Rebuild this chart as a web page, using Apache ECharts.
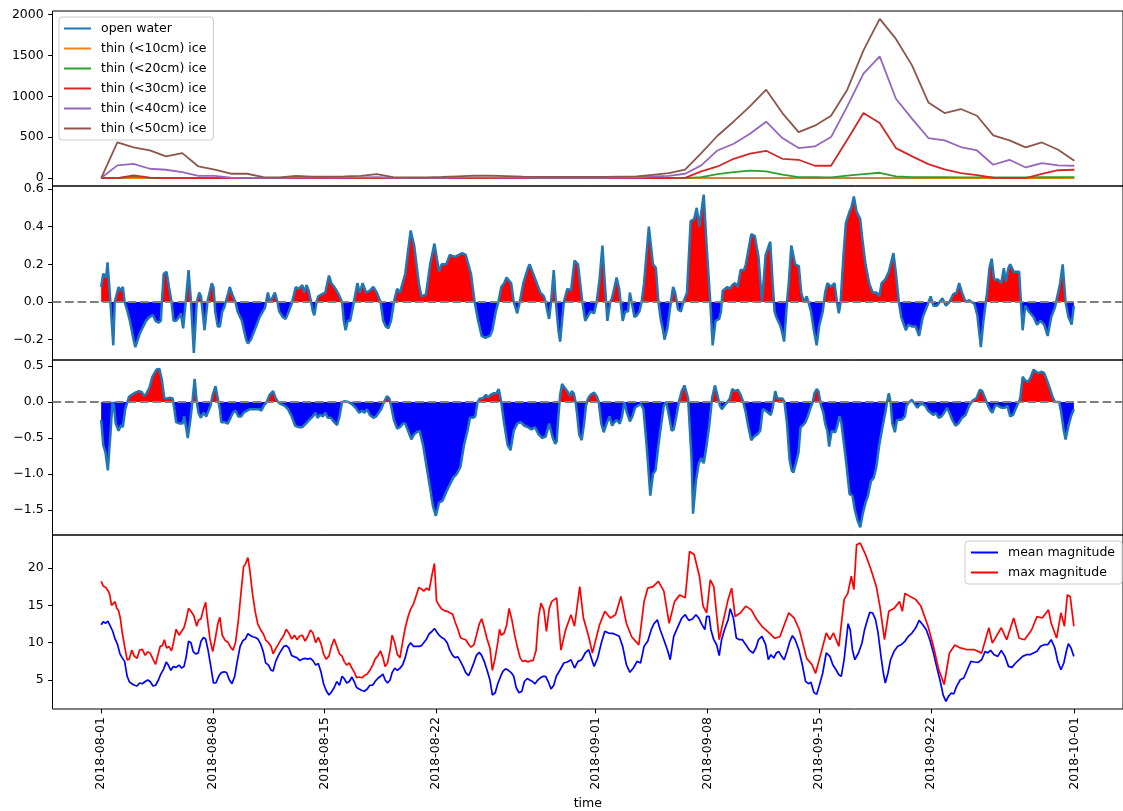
<!DOCTYPE html>
<html>
<head>
<meta charset="utf-8">
<script src="https://cdn.jsdelivr.net/npm/echarts@6/dist/echarts.min.js"></script>
<style>
  html, body { margin: 0; padding: 0; background: #fff; }
  #chart { width: 1123px; height: 811px; }
</style>
</head>
<body>
<div id="chart"></div>
<script>
// ---- ice-class extent, one sample per step from 2018-08-01 to 2018-10-01 ----
const iceNames = ['open water', 'thin (<10cm) ice', 'thin (<20cm) ice', 'thin (<30cm) ice', 'thin (<40cm) ice', 'thin (<50cm) ice'];
const openWater = [0,0,0,0,0,0,0,0,0,0,0,0,0,0,0,0,0,0,0,0,0,0,0,0,0,0,0,0,0,0,0,0,0,0,0,0,0,0,0,0,0,0,0,0,0,0,0,0,0,0,0,0,0,0,0,0,0,0,0,0,0];
const thin10 = [0,0,0,0,0,0,0,0,0,0,0,0,0,0,0,0,0,0,0,0,0,0,0,0,0,0,0,0,0,0,0,0,0,0,0,0,0,0,2,2,3,3,2,2,2,2,2,3,3,2,2,0,0,0,0,0,0,0,0,0,0];
const thin20 = [0,0,18,3,0,0,0,0,0,0,0,0,0,0,0,0,0,0,0,0,0,0,0,0,0,0,0,0,0,0,0,0,0,0,0,0,0,12,49,74,90,81,41,12,10,8,29,49,65,20,12,10,12,8,8,8,8,8,10,10,12];
const thin30 = [0,0,32,5,0,0,0,0,0,0,0,0,0,0,0,0,0,0,0,0,0,0,0,0,0,0,0,0,0,0,0,0,0,0,0,0,3,81,142,236,298,334,236,224,151,151,469,796,674,367,265,171,106,61,36,4,0,0,51,96,102];
const thin40 = [0,155,175,114,102,73,28,28,4,3,3,3,5,5,5,5,8,12,4,3,3,4,6,8,8,6,5,4,4,4,4,4,5,7,20,27,53,155,338,420,543,690,490,367,387,502,877,1278,1490,971,725,490,461,380,338,163,224,130,184,155,151];
const thin50 = [0,436,375,338,265,306,142,102,53,53,12,8,28,16,16,20,28,49,12,8,8,14,22,30,30,25,18,15,15,15,15,15,18,20,40,60,102,306,518,693,877,1082,796,563,641,763,1082,1563,1948,1703,1376,926,796,845,763,522,461,375,436,347,212];
const iceSeries = [openWater, thin10, thin20, thin30, thin40, thin50];

// ---- second panel: [days since 2018-08-01, value] ----
const diffA = [[0,0.08],[0.13,0.15],[0.25,0.16],[0.31,0.13],[0.4,0.21],[0.58,0.0],[0.76,-0.23],[0.85,0.0],[1.09,0.08],[1.18,0.06],[1.36,0.08],[1.47,0.0],[1.65,-0.05],[1.8,-0.1],[2.03,-0.2],[2.14,-0.24],[2.41,-0.17],[2.52,-0.15],[2.81,-0.1],[3.03,-0.08],[3.25,-0.07],[3.41,-0.1],[3.59,-0.11],[3.74,-0.1],[3.81,0.0],[3.92,0.15],[4.1,0.16],[4.25,0.08],[4.41,0.0],[4.54,-0.1],[4.7,-0.1],[4.88,-0.08],[4.99,-0.06],[5.14,-0.14],[5.3,0.0],[5.48,0.17],[5.63,0.0],[5.81,-0.27],[5.99,0.0],[6.15,0.05],[6.26,0.03],[6.48,-0.15],[6.66,0.0],[6.93,0.1],[7.04,0.08],[7.15,-0.05],[7.31,-0.13],[7.44,-0.13],[7.59,-0.05],[7.71,-0.03],[7.97,0.05],[8.06,0.08],[8.26,0.03],[8.42,0.0],[8.55,-0.05],[8.82,-0.1],[9.09,-0.2],[9.2,-0.22],[9.38,-0.2],[9.49,-0.21],[9.71,-0.13],[9.93,-0.08],[10.27,-0.03],[10.45,0.05],[10.6,0.0],[10.71,-0.01],[10.89,0.05],[11.05,0.0],[11.16,-0.05],[11.38,-0.08],[11.56,-0.09],[11.76,-0.05],[11.94,-0.01],[12.2,0.08],[12.38,0.07],[12.61,0.09],[12.72,0.05],[12.87,0.09],[13.01,0.06],[13.16,0.0],[13.27,-0.05],[13.36,-0.07],[13.5,0.0],[13.61,0.03],[13.72,0.02],[13.83,0.04],[14.05,0.05],[14.28,0.14],[14.43,0.1],[14.61,0.08],[14.83,0.05],[15.1,0.0],[15.21,-0.1],[15.32,-0.15],[15.46,-0.1],[15.61,-0.1],[15.84,0.0],[16.06,0.1],[16.21,0.05],[16.39,0.1],[16.61,0.05],[16.84,0.06],[17.06,0.08],[17.28,0.05],[17.51,0.0],[17.68,-0.1],[17.84,-0.13],[18.0,-0.14],[18.17,-0.1],[18.35,0.0],[18.55,0.07],[18.73,0.05],[19.06,0.15],[19.4,0.38],[19.62,0.3],[19.91,0.1],[20.07,0.03],[20.36,0.04],[20.62,0.2],[20.89,0.31],[21.18,0.16],[21.34,0.2],[21.63,0.2],[21.85,0.25],[22.18,0.24],[22.63,0.26],[22.85,0.25],[23.18,0.15],[23.41,0.0],[23.63,-0.1],[23.85,-0.18],[24.08,-0.19],[24.37,-0.18],[24.52,-0.15],[24.74,-0.05],[24.9,0.0],[25.08,0.08],[25.26,0.1],[25.41,0.13],[25.7,0.1],[25.86,0.0],[26.08,-0.06],[26.24,0.0],[26.46,0.1],[26.75,0.18],[26.86,0.2],[27.08,0.15],[27.53,0.05],[27.75,0.03],[27.86,0.0],[27.97,-0.05],[28.08,-0.09],[28.2,0.0],[28.37,0.17],[28.5,0.0],[28.66,-0.15],[28.77,-0.21],[28.89,-0.1],[29.0,0.0],[29.22,0.07],[29.45,0.06],[29.67,0.22],[29.89,0.2],[30.0,0.2],[30.16,0.0],[30.34,-0.1],[30.45,-0.11],[30.68,-0.05],[30.9,-0.06],[31.06,0.0],[31.24,0.12],[31.42,0.3],[31.57,0.1],[31.73,-0.1],[31.91,0.0],[32.02,0.02],[32.31,0.13],[32.47,0.07],[32.69,-0.1],[32.85,-0.05],[33.03,-0.05],[33.14,0.05],[33.25,0.0],[33.43,-0.08],[33.59,-0.07],[33.74,-0.05],[33.88,0.0],[34.03,0.1],[34.33,0.4],[34.42,0.41],[34.59,0.2],[34.77,0.18],[34.93,0.0],[35.09,-0.1],[35.22,-0.15],[35.31,-0.2],[35.49,-0.14],[35.71,0.0],[35.85,0.08],[35.98,0.05],[36.16,-0.04],[36.34,-0.05],[36.5,0.0],[36.72,0.05],[36.95,0.43],[37.17,0.44],[37.33,0.5],[37.5,0.4],[37.62,0.48],[37.77,0.57],[37.95,0.3],[38.18,0.0],[38.33,-0.23],[38.51,-0.1],[38.74,-0.09],[38.85,-0.05],[38.96,0.06],[39.07,0.07],[39.25,0.08],[39.41,0.07],[39.56,0.09],[39.74,0.1],[39.9,0.08],[40.08,0.17],[40.3,0.17],[40.41,0.2],[40.75,0.36],[40.97,0.35],[41.2,0.24],[41.42,0.0],[41.65,0.25],[41.94,0.32],[42.09,0.1],[42.21,-0.05],[42.32,-0.08],[42.54,-0.12],[42.65,-0.15],[42.81,-0.21],[42.99,0.0],[43.1,0.1],[43.26,0.3],[43.5,0.2],[43.73,0.19],[43.88,0.05],[44.04,0.0],[44.22,0.03],[44.33,0.0],[44.49,-0.05],[44.67,-0.15],[44.85,-0.23],[45.0,-0.13],[45.23,-0.05],[45.38,0.05],[45.52,0.1],[45.74,0.08],[45.97,0.1],[46.12,0.0],[46.24,-0.06],[46.35,0.0],[46.53,0.25],[46.68,0.42],[46.91,0.48],[47.02,0.5],[47.18,0.56],[47.35,0.48],[47.58,0.44],[47.69,0.35],[47.91,0.2],[48.14,0.1],[48.36,0.05],[48.59,0.05],[48.77,0.03],[48.92,0.1],[49.15,0.12],[49.37,0.16],[49.66,0.26],[49.82,0.15],[50.0,0.0],[50.15,-0.08],[50.44,-0.15],[50.6,-0.12],[50.82,-0.13],[51.05,-0.13],[51.27,-0.18],[51.5,-0.08],[51.83,-0.01],[51.99,0.03],[52.17,-0.02],[52.39,-0.02],[52.73,0.02],[52.95,-0.02],[53.17,0.0],[53.4,0.04],[53.62,0.05],[53.78,0.1],[53.96,0.05],[54.18,0.0],[54.41,0.01],[54.56,0.0],[54.74,-0.01],[54.92,-0.07],[55.14,-0.24],[55.3,-0.1],[55.53,0.05],[55.68,0.18],[55.82,0.23],[55.97,0.12],[56.2,0.12],[56.42,0.1],[56.58,0.18],[56.71,0.11],[56.87,0.18],[56.98,0.2],[57.2,0.16],[57.54,0.16],[57.65,0.0],[57.76,-0.15],[57.92,-0.02],[58.14,-0.05],[58.44,-0.08],[58.66,-0.12],[58.88,-0.1],[59.11,-0.12],[59.33,-0.18],[59.55,-0.08],[59.78,-0.03],[59.89,-0.02],[60.11,0.1],[60.27,0.2],[60.45,0.0],[60.63,-0.08],[60.83,-0.12],[60.97,-0.02]];

// ---- third panel: [days since 2018-08-01, value] ----
const diffB = [[0,-0.25],[0.13,-0.6],[0.27,-0.7],[0.42,-0.95],[0.58,-0.45],[0.71,0.0],[0.8,-0.05],[0.91,-0.3],[1.09,-0.4],[1.25,-0.32],[1.36,-0.35],[1.51,-0.1],[1.65,0.0],[1.74,0.07],[1.92,0.1],[2.14,0.13],[2.36,0.15],[2.54,0.14],[2.69,0.08],[2.85,0.12],[3.03,0.2],[3.21,0.35],[3.47,0.45],[3.65,0.46],[3.81,0.3],[3.96,0.05],[4.14,0.05],[4.32,0.06],[4.48,0.05],[4.59,-0.1],[4.7,-0.28],[4.92,-0.3],[5.1,-0.3],[5.21,-0.2],[5.32,-0.35],[5.43,-0.5],[5.59,-0.25],[5.72,0.0],[5.86,0.32],[5.99,0.0],[6.1,-0.15],[6.24,-0.22],[6.41,-0.15],[6.59,-0.2],[6.7,-0.18],[6.86,-0.05],[6.99,0.1],[7.17,0.22],[7.31,0.05],[7.44,-0.1],[7.53,-0.28],[7.75,-0.28],[7.93,-0.3],[8.11,-0.22],[8.26,-0.15],[8.42,-0.12],[8.6,-0.2],[8.78,-0.2],[8.93,-0.15],[9.15,-0.12],[9.33,-0.1],[9.53,-0.1],[9.71,-0.1],[9.89,-0.1],[10.04,-0.12],[10.2,-0.05],[10.38,0.0],[10.56,0.1],[10.78,0.15],[10.94,0.05],[11.09,0.0],[11.27,-0.03],[11.49,-0.05],[11.71,-0.1],[11.94,-0.2],[12.16,-0.33],[12.38,-0.35],[12.61,-0.35],[12.83,-0.3],[13.05,-0.25],[13.27,-0.2],[13.43,-0.15],[13.56,-0.22],[13.72,-0.18],[13.9,-0.2],[14.05,-0.15],[14.21,-0.22],[14.39,-0.22],[14.61,-0.28],[14.79,-0.32],[14.94,-0.2],[15.1,0.0],[15.28,0.01],[15.5,0.0],[15.72,-0.03],[15.95,-0.08],[16.17,-0.15],[16.35,-0.12],[16.5,-0.15],[16.66,-0.1],[16.84,-0.18],[17.06,-0.22],[17.24,-0.2],[17.39,-0.15],[17.55,-0.1],[17.73,0.0],[17.91,0.08],[18.06,0.05],[18.17,-0.05],[18.35,-0.25],[18.55,-0.37],[18.73,-0.35],[18.91,-0.3],[19.06,-0.3],[19.24,-0.4],[19.44,-0.52],[19.62,-0.45],[19.78,-0.42],[19.96,-0.4],[20.18,-0.6],[20.4,-0.9],[20.62,-1.2],[20.8,-1.45],[20.98,-1.58],[21.18,-1.4],[21.4,-1.37],[21.63,-1.25],[21.85,-1.15],[22.07,-1.05],[22.29,-1.0],[22.52,-0.9],[22.74,-0.6],[22.96,-0.4],[23.12,-0.22],[23.3,-0.22],[23.45,-0.2],[23.59,0.0],[23.74,0.05],[23.92,0.05],[24.12,0.1],[24.25,0.06],[24.41,0.1],[24.59,0.12],[24.77,0.12],[24.92,0.18],[25.08,0.0],[25.26,-0.3],[25.48,-0.6],[25.66,-0.67],[25.86,-0.4],[26.08,-0.3],[26.3,-0.28],[26.53,-0.33],[26.75,-0.35],[26.97,-0.38],[27.19,-0.35],[27.42,-0.45],[27.64,-0.5],[27.86,-0.48],[28.08,-0.3],[28.31,-0.5],[28.46,-0.58],[28.55,-0.55],[28.66,-0.2],[28.77,0.1],[28.89,0.25],[29.04,0.2],[29.22,0.15],[29.38,0.08],[29.49,0.15],[29.62,0.12],[29.74,0.0],[29.85,-0.2],[29.96,-0.45],[30.12,-0.53],[30.27,-0.3],[30.39,-0.05],[30.52,0.05],[30.68,0.1],[30.9,0.13],[31.06,0.08],[31.19,0.0],[31.35,-0.3],[31.5,-0.42],[31.68,-0.3],[31.86,-0.2],[32.02,-0.33],[32.18,-0.28],[32.31,-0.25],[32.51,-0.3],[32.65,-0.2],[32.8,0.0],[32.96,-0.15],[33.14,-0.27],[33.3,-0.2],[33.47,-0.08],[33.65,-0.05],[33.83,-0.03],[33.99,-0.1],[34.15,-0.5],[34.26,-0.8],[34.42,-1.3],[34.59,-1.0],[34.75,-0.95],[34.93,-0.6],[35.11,-0.3],[35.27,-0.05],[35.42,0.0],[35.6,-0.2],[35.76,-0.4],[35.89,-0.38],[36.05,-0.2],[36.21,0.0],[36.39,0.15],[36.56,0.23],[36.68,0.23],[36.79,0.05],[36.88,-0.3],[37.01,-0.8],[37.1,-1.55],[37.28,-1.1],[37.46,-0.85],[37.62,-0.78],[37.77,-0.85],[37.95,-0.6],[38.13,-0.3],[38.29,0.05],[38.47,0.23],[38.62,0.1],[38.78,-0.05],[38.91,-0.1],[39.07,-0.05],[39.25,0.0],[39.41,0.05],[39.56,0.18],[39.74,0.15],[39.9,0.17],[40.08,0.1],[40.24,0.0],[40.41,-0.15],[40.57,-0.35],[40.75,-0.53],[40.93,-0.48],[41.13,-0.45],[41.31,-0.4],[41.47,-0.1],[41.65,-0.12],[41.8,-0.15],[41.98,-0.18],[42.09,-0.08],[42.25,0.15],[42.38,0.05],[42.54,0.05],[42.7,0.05],[42.83,0.0],[42.99,-0.3],[43.15,-0.8],[43.28,-0.95],[43.39,-0.98],[43.55,-0.85],[43.71,-0.7],[43.84,-0.35],[44.0,-0.32],[44.15,-0.28],[44.29,-0.2],[44.44,-0.1],[44.6,0.0],[44.71,0.12],[44.85,0.18],[44.96,0.15],[45.12,-0.05],[45.27,-0.15],[45.38,-0.3],[45.52,-0.4],[45.63,-0.62],[45.79,-0.4],[45.9,-0.38],[46.01,-0.42],[46.12,-0.35],[46.28,-0.2],[46.39,-0.28],[46.57,-0.6],[46.73,-0.9],[46.91,-1.28],[47.09,-1.3],[47.24,-1.5],[47.42,-1.65],[47.58,-1.74],[47.74,-1.55],[47.91,-1.4],[48.07,-1.3],[48.25,-1.1],[48.43,-1.05],[48.59,-0.9],[48.77,-0.6],[48.97,-0.35],[49.15,-0.15],[49.26,0.0],[49.37,0.12],[49.48,0.0],[49.59,-0.3],[49.75,-0.42],[49.88,-0.25],[50.04,-0.25],[50.22,-0.24],[50.38,-0.2],[50.49,-0.05],[50.65,0.0],[50.82,0.03],[51.0,-0.03],[51.16,-0.08],[51.34,-0.03],[51.5,-0.03],[51.65,-0.05],[51.83,-0.12],[51.99,-0.15],[52.17,-0.18],[52.32,-0.15],[52.5,-0.22],[52.68,-0.2],[52.84,-0.15],[53.02,-0.08],[53.17,-0.15],[53.35,-0.25],[53.55,-0.33],[53.73,-0.3],[53.96,-0.22],[54.18,-0.18],[54.41,-0.05],[54.63,0.02],[54.86,0.05],[55.08,0.17],[55.23,0.15],[55.41,0.05],[55.59,-0.05],[55.75,-0.12],[55.86,-0.15],[56.04,-0.05],[56.2,-0.05],[56.42,-0.08],[56.65,-0.08],[56.8,-0.05],[56.98,-0.2],[57.16,-0.18],[57.31,-0.1],[57.47,-0.02],[57.61,0.05],[57.76,0.35],[57.92,0.3],[58.1,0.28],[58.28,0.35],[58.44,0.45],[58.59,0.42],[58.77,0.4],[58.95,0.42],[59.11,0.4],[59.29,0.3],[59.45,0.2],[59.62,0.08],[59.78,0.0],[59.89,-0.02],[60.05,0.0],[60.18,-0.15],[60.34,-0.4],[60.45,-0.52],[60.61,-0.35],[60.79,-0.2],[60.97,-0.1]];

// ---- bottom panel: [days since 2018-08-01, magnitude] ----
const meanMagnitude = [[0,12.4],[0.13,12.8],[0.29,12.6],[0.42,12.9],[0.58,12.2],[0.73,11.5],[0.87,10.5],[1.02,9.8],[1.18,8.5],[1.31,8.0],[1.47,7.5],[1.63,5.5],[1.76,4.8],[1.92,4.5],[2.09,4.3],[2.25,4.2],[2.41,4.6],[2.58,4.5],[2.76,4.8],[2.92,5.0],[3.07,4.8],[3.25,4.2],[3.41,4.3],[3.59,5.0],[3.74,5.8],[3.92,6.5],[4.08,7.4],[4.21,7.0],[4.37,6.3],[4.52,6.8],[4.7,6.7],[4.88,7.0],[5.03,6.6],[5.19,6.8],[5.32,8.0],[5.48,10.2],[5.63,10.0],[5.77,8.8],[5.92,8.5],[6.08,8.6],[6.26,10.2],[6.41,10.7],[6.55,10.5],[6.7,9.0],[6.86,7.0],[7.04,4.6],[7.19,4.6],[7.37,5.5],[7.53,6.0],[7.71,6.1],[7.86,6.0],[8.04,5.0],[8.2,4.5],[8.37,5.5],[8.53,7.5],[8.71,9.5],[8.89,10.3],[9.04,10.5],[9.2,11.2],[9.33,11.0],[9.49,10.8],[9.67,10.7],[9.82,10.5],[10.0,9.8],[10.16,8.8],[10.31,7.3],[10.49,7.0],[10.65,6.3],[10.78,6.2],[10.94,7.5],[11.11,8.3],[11.27,8.9],[11.45,9.5],[11.6,9.6],[11.76,9.3],[11.94,8.3],[12.12,8.1],[12.27,8.0],[12.45,7.6],[12.61,7.8],[12.78,7.9],[12.94,7.8],[13.12,7.9],[13.27,7.6],[13.45,7.0],[13.61,7.2],[13.79,6.0],[13.94,4.5],[14.1,3.6],[14.28,3.0],[14.43,3.4],[14.61,4.0],[14.77,4.8],[14.94,4.3],[15.1,5.5],[15.23,5.2],[15.39,4.6],[15.55,4.8],[15.72,5.4],[15.88,4.7],[16.01,4.0],[16.17,3.8],[16.35,3.6],[16.5,3.5],[16.68,3.8],[16.84,4.3],[17.02,4.3],[17.17,4.8],[17.33,5.2],[17.51,5.5],[17.66,5.8],[17.8,5.0],[17.95,4.6],[18.11,5.0],[18.24,6.0],[18.4,6.6],[18.57,6.3],[18.73,6.6],[18.89,7.0],[19.06,8.0],[19.24,9.5],[19.4,10.0],[19.58,9.5],[19.73,9.5],[19.91,9.5],[20.07,9.6],[20.22,10.0],[20.4,10.5],[20.56,11.2],[20.73,11.5],[20.89,11.9],[21.02,11.5],[21.18,11.0],[21.34,10.7],[21.51,10.5],[21.69,10.0],[21.85,9.0],[22.03,8.3],[22.18,8.0],[22.36,8.1],[22.52,7.5],[22.69,6.8],[22.85,6.0],[23.03,5.6],[23.18,6.3],[23.36,7.3],[23.52,8.3],[23.7,8.7],[23.85,8.3],[24.01,7.5],[24.19,6.3],[24.37,5.0],[24.52,3.0],[24.7,3.3],[24.86,4.5],[25.04,5.5],[25.19,6.2],[25.35,6.5],[25.52,6.3],[25.7,6.0],[25.86,5.5],[26.01,4.0],[26.19,3.3],[26.37,3.5],[26.53,4.8],[26.71,5.2],[26.86,5.0],[27.04,4.8],[27.19,4.5],[27.37,5.0],[27.53,5.3],[27.71,5.5],[27.86,5.5],[28.02,4.8],[28.2,3.8],[28.37,4.3],[28.53,5.5],[28.77,6.38],[29.0,7.28],[29.22,7.41],[29.45,7.72],[29.67,6.61],[29.89,7.5],[30.12,7.72],[30.34,8.62],[30.56,9.06],[30.79,7.5],[30.9,6.83],[31.12,7.95],[31.35,9.96],[31.57,11.52],[31.8,11.29],[32.13,11.21],[32.47,10.85],[32.69,9.51],[32.92,7.05],[33.14,6.03],[33.36,6.61],[33.59,7.5],[33.81,7.28],[34.03,9.51],[34.26,10.18],[34.48,11.74],[34.64,12.5],[34.86,13.08],[35.04,11.74],[35.27,10.4],[35.49,9.06],[35.67,7.72],[35.89,10.85],[36.16,12.19],[36.39,13.3],[36.61,13.75],[36.83,12.99],[37.06,13.17],[37.28,13.75],[37.46,13.3],[37.66,12.41],[37.84,11.74],[37.95,13.53],[38.11,13.53],[38.22,11.74],[38.4,10.4],[38.58,9.73],[38.74,8.26],[38.89,10.4],[39.07,11.74],[39.3,13.08],[39.43,14.55],[39.63,13.3],[39.81,10.63],[40.01,10.4],[40.19,10.4],[40.41,9.73],[40.64,8.97],[40.86,8.62],[41.04,9.29],[41.2,10.4],[41.42,10.85],[41.65,9.73],[41.82,7.72],[41.98,8.39],[42.16,7.95],[42.32,8.62],[42.47,8.84],[42.65,8.17],[42.81,7.72],[42.99,8.84],[43.17,10.18],[43.33,10.94],[43.5,10.4],[43.73,9.06],[43.95,7.05],[44.15,4.82],[44.33,4.51],[44.49,4.69],[44.67,3.35],[44.85,3.08],[45.0,4.15],[45.23,5.94],[45.45,8.62],[45.68,8.17],[45.86,7.05],[46.06,6.38],[46.24,5.71],[46.39,5.49],[46.57,7.72],[46.73,10.85],[46.82,12.54],[46.95,11.74],[47.09,9.06],[47.24,7.72],[47.47,8.62],[47.69,9.96],[47.85,11.74],[48.03,13.08],[48.18,14.06],[48.36,13.97],[48.54,13.08],[48.7,11.29],[48.88,8.17],[49.03,5.94],[49.15,4.6],[49.32,5.94],[49.48,7.72],[49.7,8.84],[49.93,9.51],[50.15,9.73],[50.38,10.18],[50.6,10.85],[50.82,11.29],[51.05,11.96],[51.27,12.99],[51.5,12.41],[51.72,11.74],[51.94,10.4],[52.17,8.62],[52.39,6.61],[52.62,4.6],[52.77,3.04],[52.95,2.14],[53.11,2.81],[53.29,3.26],[53.44,3.13],[53.62,4.15],[53.85,5.04],[54.07,5.27],[54.29,6.38],[54.52,7.5],[54.74,7.41],[54.97,7.37],[55.19,7.72],[55.41,8.84],[55.57,8.62],[55.75,8.97],[55.97,8.39],[56.2,8.17],[56.42,8.97],[56.65,8.17],[56.87,6.83],[57.09,6.7],[57.32,7.28],[57.54,7.72],[57.76,8.17],[57.99,8.39],[58.21,8.39],[58.44,8.62],[58.66,8.84],[58.88,9.51],[59.11,9.73],[59.33,9.73],[59.55,10.4],[59.78,9.29],[59.96,7.5],[60.16,6.38],[60.34,7.28],[60.52,9.06],[60.63,9.87],[60.79,9.29],[60.97,8.17]];

const maxMagnitude = [[0,18.2],[0.13,17.6],[0.29,17.4],[0.42,17.0],[0.53,16.5],[0.65,15.0],[0.76,14.8],[0.87,15.5],[0.98,14.6],[1.09,14.3],[1.2,13.3],[1.31,11.5],[1.47,9.5],[1.63,7.7],[1.76,7.8],[1.92,9.0],[2.07,8.2],[2.25,7.9],[2.41,9.0],[2.58,9.1],[2.76,8.3],[2.92,8.8],[3.07,8.6],[3.25,7.8],[3.41,7.1],[3.54,8.2],[3.7,9.5],[3.83,9.6],[3.96,10.4],[4.1,9.3],[4.25,9.5],[4.41,8.9],[4.54,10.1],[4.7,11.8],[4.88,11.0],[5.03,11.5],[5.19,12.0],[5.32,13.0],[5.48,14.6],[5.63,14.2],[5.81,13.6],[5.99,12.2],[6.1,13.0],[6.26,13.2],[6.41,14.5],[6.55,15.4],[6.64,13.5],[6.82,10.5],[6.99,8.8],[7.15,10.5],[7.31,12.5],[7.44,13.4],[7.59,11.0],[7.77,10.3],[7.93,10.1],[8.11,9.4],[8.26,9.0],[8.42,10.0],[8.6,13.0],[8.78,17.0],[8.93,20.2],[9.04,20.5],[9.2,21.4],[9.33,19.5],[9.49,16.5],[9.67,14.0],[9.82,12.5],[10.0,11.7],[10.16,11.2],[10.33,10.3],[10.49,10.0],[10.65,9.5],[10.78,8.5],[10.94,9.2],[11.11,9.8],[11.27,10.4],[11.45,11.0],[11.6,11.8],[11.76,11.3],[11.94,10.5],[12.12,11.0],[12.27,10.4],[12.45,10.9],[12.61,11.0],[12.78,10.2],[12.94,10.8],[13.12,11.7],[13.27,11.3],[13.45,10.0],[13.61,10.7],[13.79,9.8],[13.94,8.5],[14.1,7.8],[14.28,8.2],[14.43,9.5],[14.61,10.5],[14.77,9.5],[14.94,8.5],[15.1,8.2],[15.23,7.5],[15.39,7.0],[15.55,7.3],[15.72,6.6],[15.88,6.0],[16.01,5.3],[16.17,5.4],[16.35,5.3],[16.5,5.6],[16.68,5.8],[16.84,6.3],[17.02,7.0],[17.17,7.8],[17.33,8.2],[17.51,8.9],[17.66,8.0],[17.8,6.8],[17.95,7.3],[18.11,9.0],[18.24,11.0],[18.4,10.0],[18.57,8.4],[18.73,8.0],[18.89,10.0],[19.06,12.0],[19.24,13.5],[19.4,14.5],[19.58,15.2],[19.73,16.2],[19.91,17.4],[20.07,17.2],[20.22,16.9],[20.4,17.3],[20.56,17.0],[20.73,19.0],[20.89,20.6],[21.02,15.6],[21.18,15.0],[21.34,14.5],[21.51,14.3],[21.69,14.2],[21.85,14.0],[22.03,13.8],[22.18,12.8],[22.36,11.8],[22.52,10.7],[22.69,10.5],[22.85,10.4],[23.03,9.8],[23.18,9.4],[23.36,9.7],[23.52,11.0],[23.7,12.5],[23.85,13.2],[24.01,12.0],[24.19,10.5],[24.37,9.3],[24.52,6.3],[24.7,8.0],[24.86,10.0],[24.97,11.8],[25.08,11.0],[25.26,11.3],[25.41,12.3],[25.57,14.6],[25.75,13.0],[25.92,11.0],[26.08,9.5],[26.26,8.0],[26.41,7.5],[26.59,7.6],[26.75,7.4],[26.93,7.6],[27.08,7.6],[27.26,9.0],[27.42,13.5],[27.57,15.3],[27.75,14.4],[27.91,11.5],[28.08,14.5],[28.24,15.5],[28.42,15.8],[28.55,16.0],[28.82,9.0],[29.11,11.7],[29.45,13.75],[29.67,12.2],[30.0,17.5],[30.23,13.3],[30.56,10.8],[30.79,8.6],[31.24,12.4],[31.57,14.2],[31.91,13.3],[32.24,13.75],[32.58,16.2],[32.92,12.6],[33.25,10.8],[33.7,9.7],[34.03,15.5],[34.26,17.3],[34.59,17.5],[34.93,18.2],[35.27,16.9],[35.6,12.6],[35.94,15.5],[36.27,16.4],[36.61,16.0],[36.88,22.2],[37.17,21.8],[37.5,18.9],[37.73,14.9],[37.95,14.0],[38.18,18.4],[38.4,17.5],[38.74,10.4],[38.96,12.6],[39.3,15.8],[39.52,17.3],[39.74,13.5],[40.08,14.0],[40.41,14.9],[40.75,14.4],[41.09,13.1],[41.42,12.2],[41.87,11.3],[42.21,10.6],[42.54,10.8],[43.1,14.0],[43.44,13.3],[43.77,11.7],[44.22,7.9],[44.56,7.05],[44.78,5.9],[45.12,8.6],[45.45,11.3],[45.68,10.4],[45.9,11.3],[46.24,9.5],[46.57,15.8],[46.8,16.6],[47.02,18.9],[47.18,17.1],[47.35,23.1],[47.58,23.35],[47.91,21.8],[48.25,19.8],[48.59,17.5],[48.81,14.9],[49.1,10.4],[49.37,14.2],[49.71,14.6],[50.04,15.5],[50.22,14.2],[50.38,16.6],[50.71,16.2],[51.05,15.8],[51.38,14.9],[51.83,12.2],[52.17,9.5],[52.5,6.4],[52.84,4.4],[53.17,8.6],[53.51,9.7],[53.85,9.3],[54.29,9.06],[54.74,9.06],[55.19,8.6],[55.64,12.0],[55.86,9.95],[56.42,12.0],[56.76,10.4],[57.2,13.3],[57.54,10.6],[57.88,10.4],[58.32,11.7],[58.66,13.5],[58.99,13.3],[59.38,14.4],[59.55,12.6],[59.89,10.6],[60.16,14.0],[60.38,12.2],[60.56,16.4],[60.74,16.2],[60.97,12.2]];

// ---- tick labels ----
const dateTicks = ['2018-08-01', '2018-08-08', '2018-08-15', '2018-08-22', '2018-09-01', '2018-09-08', '2018-09-15', '2018-09-22', '2018-10-01'];
const iceTicks = [0, 500, 1000, 1500, 2000];
const diffATicks = [-0.2, 0, 0.2, 0.4, 0.6];
const diffBTicks = [-1.5, -1, -0.5, 0, 0.5];
const magTicks = [5, 10, 15, 20];

// ---- time helpers (x axis holds millisecond timestamps) ----
const DAY = 86400000;
const START = new Date(2018, 7, 1).getTime();
const END = new Date(2018, 9, 1).getTime();
const parseDate = s => { const p = s.split('-').map(Number); return new Date(p[0], p[1] - 1, p[2]).getTime(); };
const dateTickValues = dateTicks.map(parseDate);
const span = END - START;
const xMin = START - 0.05 * span;
const xMax = END + 0.05 * span;
// ice samples are evenly spaced over the whole period
const iceStep = span / (openWater.length - 1);
const icePairs = arr => arr.map((v, i) => [START + i * iceStep, v]);
const dayPairs = arr => arr.map(p => [START + p[0] * DAY, p[1]]);
const pad2 = n => (n < 10 ? '0' : '') + n;
const fmtDate = v => { const d = new Date(v); return d.getFullYear() + '-' + pad2(d.getMonth() + 1) + '-' + pad2(d.getDate()); };

const FONT = 'DejaVu Sans';
const FS = 12.5;
const minus = s => s.replace('-', '\u2212');
const fmtFixed = d => v => minus((Math.abs(v) < 1e-9 ? 0 : v).toFixed(d));

const iceColors = ['#1f77b4', '#ff7f0e', '#2ca02c', '#d62728', '#9467bd', '#8c564b'];

const panels = [
  { top: 11, height: 175 },
  { top: 186, height: 174 },
  { top: 360, height: 175 },
  { top: 535, height: 174 }
];

const grids = panels.map(p => ({
  left: 52.5, width: 1076.5, top: p.top, height: p.height,
  show: true, borderColor: '#000', borderWidth: 1, backgroundColor: 'transparent'
}));

const xAxes = panels.map((p, i) => {
  const last = i === panels.length - 1;
  return {
    type: 'value', gridIndex: i, min: xMin, max: xMax, scale: true,
    axisLine: { show: false },
    splitLine: { show: false },
    axisTick: last ? { show: true, length: 4.4, inside: false, customValues: dateTickValues, lineStyle: { color: '#000', width: 1 } } : { show: false },
    axisLabel: last ? {
      show: true, rotate: 90, margin: 8, fontFamily: FONT, fontSize: FS, color: '#000',
      customValues: dateTickValues, formatter: fmtDate
    } : { show: false },
    name: last ? 'time' : '',
    nameLocation: 'middle', nameGap: 88,
    nameTextStyle: { fontFamily: FONT, fontSize: FS, color: '#000' }
  };
});

function yAxis(gridIndex, min, max, ticks, fmt) {
  return {
    type: 'value', gridIndex, min, max,
    axisLine: { show: false },
    splitLine: { show: false },
    axisTick: { show: true, length: 4.4, inside: false, customValues: ticks, lineStyle: { color: '#000', width: 1 } },
    axisLabel: { show: true, margin: 8.8, fontFamily: FONT, fontSize: FS, color: '#000', customValues: ticks, formatter: fmt }
  };
}

const yAxes = [
  yAxis(0, -97, 2045, iceTicks, v => String(Math.round(v))),
  yAxis(1, -0.308, 0.616, diffATicks, fmtFixed(1)),
  yAxis(2, -1.847, 0.583, diffBTicks, fmtFixed(1)),
  yAxis(3, 1.12, 24.42, magTicks, v => String(Math.round(v)))
];

const series = [];
iceSeries.forEach((arr, i) => {
  series.push({
    name: iceNames[i], type: 'line', xAxisIndex: 0, yAxisIndex: 0,
    data: icePairs(arr), showSymbol: false, symbol: 'none',
    lineStyle: { color: iceColors[i], width: 1.8 }, itemStyle: { color: iceColors[i] },
    emphasis: { disabled: true }, animation: false
  });
});

const zeroLine = {
  silent: true, symbol: 'none', label: { show: false },
  lineStyle: { color: '#808080', type: [8.7, 3.8], width: 1.9 },
  emphasis: { disabled: true },
  data: [{ yAxis: 0 }]
};

function fillPanel(data, axisIndex) {
  const pts = dayPairs(data);
  const fillIdx = series.length;
  series.push({
    type: 'line', xAxisIndex: axisIndex, yAxisIndex: axisIndex, data: pts,
    showSymbol: false, symbol: 'none',
    lineStyle: { width: 0 },
    areaStyle: { opacity: 1 },
    emphasis: { disabled: true }, animation: false, z: 2
  });
  series.push({
    type: 'line', xAxisIndex: axisIndex, yAxisIndex: axisIndex, data: pts,
    showSymbol: false, symbol: 'none',
    lineStyle: { color: '#1f77b4', width: 2.5 }, itemStyle: { color: '#1f77b4' },
    emphasis: { disabled: true }, animation: false, z: 3,
    markLine: zeroLine
  });
  return fillIdx;
}

const fillA = fillPanel(diffA, 1);
const fillB = fillPanel(diffB, 2);

series.push({
  name: 'mean magnitude', type: 'line', xAxisIndex: 3, yAxisIndex: 3,
  data: dayPairs(meanMagnitude), showSymbol: false, symbol: 'none',
  lineStyle: { color: '#0000ff', width: 1.7 }, itemStyle: { color: '#0000ff' },
  emphasis: { disabled: true }, animation: false
});
series.push({
  name: 'max magnitude', type: 'line', xAxisIndex: 3, yAxisIndex: 3,
  data: dayPairs(maxMagnitude), showSymbol: false, symbol: 'none',
  lineStyle: { color: '#ff0000', width: 1.7 }, itemStyle: { color: '#ff0000' },
  emphasis: { disabled: true }, animation: false
});

// area colour by sign: blue below zero, red above
const signPieces = [{ gt: -10, lt: 0, color: '#0000ff' }, { gte: 0, lt: 10, color: '#ff0000' }];

const legendBase = {
  orient: 'vertical', itemWidth: 27, itemHeight: 12, itemGap: 7,
  backgroundColor: 'rgba(255,255,255,0.8)', borderColor: '#cccccc', borderWidth: 1, borderRadius: 3,
  itemStyle: { opacity: 0 },
  textStyle: { fontFamily: FONT, fontSize: FS, color: '#000', padding: [0, 0, 0, 5] },
  selectedMode: false
};

const chart = echarts.init(document.getElementById('chart'), null, { renderer: 'canvas' });
chart.setOption({
  animation: false,
  backgroundColor: '#ffffff',
  textStyle: { fontFamily: FONT },
  grid: grids,
  xAxis: xAxes,
  yAxis: yAxes,
  visualMap: [
    { type: 'piecewise', show: false, seriesIndex: fillA, dimension: 1, pieces: signPieces },
    { type: 'piecewise', show: false, seriesIndex: fillB, dimension: 1, pieces: signPieces }
  ],
  legend: [
    Object.assign({}, legendBase, { left: 59, top: 17, padding: [5, 7, 5, 4], data: iceNames }),
    Object.assign({}, legendBase, { left: 965, top: 541, padding: [5, 7, 5, 5], data: ['mean magnitude', 'max magnitude'] })
  ],
  series
});
</script>
</body>
</html>
